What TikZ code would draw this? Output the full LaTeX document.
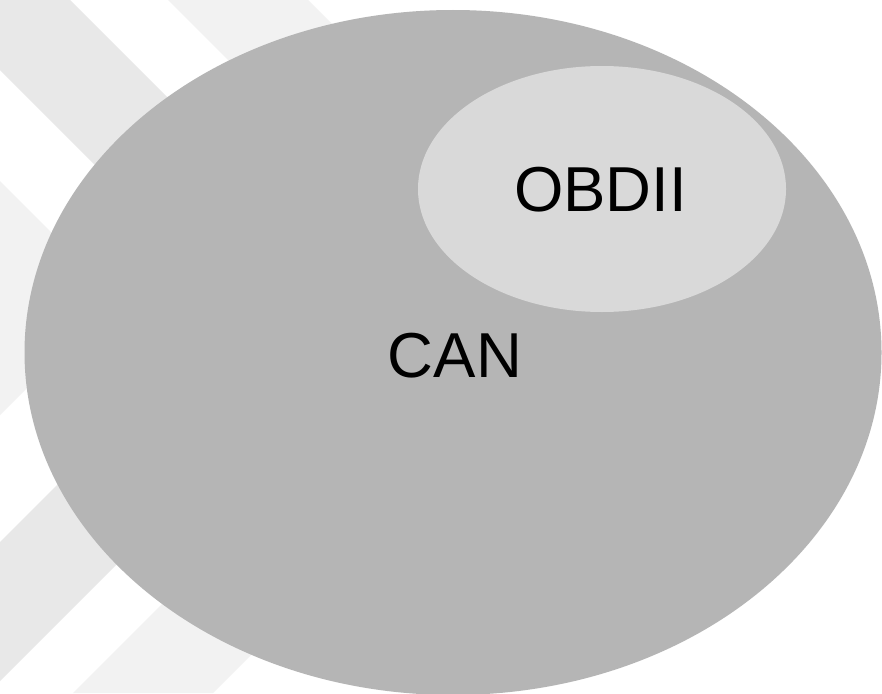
\documentclass[tikz,border=0pt]{standalone}
\usepackage{fontspec}
\setmainfont{Liberation Sans}
\usetikzlibrary{shapes.geometric}
\definecolor{stripeA}{HTML}{E8E8E8}
\definecolor{stripeB}{HTML}{F2F2F2}
\definecolor{canfill}{HTML}{B5B5B5}
\definecolor{obdfill}{HTML}{D9D9D9}
\tikzset{
  blob/.style={ellipse, inner sep=0pt, outer sep=0pt, draw=none},
  lbl/.style={inner sep=0pt, outer sep=0pt, anchor=base, font=\fontsize{63.5}{70}\selectfont, text=black}
}
\begin{document}
\begin{tikzpicture}[x=1pt, y=-1pt]
\useasboundingbox (0,0) rectangle (882,693);
\clip (0,0) rectangle (882,693);
\fill[white] (0,0) rectangle (882,693);
% background chevron stripes
\fill[stripeB] (0,181) -- (117,298) -- (0,415) -- cycle;
\fill[stripeA] (0,0) -- (70,0) -- (375.5,305.5) -- (0,681) -- (0,542) -- (236,306) -- (0,70) -- cycle;
\fill[stripeB] (168,0) -- (308,0) -- (607,299) -- (213,693) -- (73,693) -- (467,299) -- cycle;
% ellipses
\node[blob, fill=canfill, minimum width=857pt, minimum height=685pt] (can) at (453,352.5) {};
\node[blob, fill=obdfill, minimum width=368pt, minimum height=246pt] (obd) at (602,189) {};
% labels
\node[lbl] (canlbl) at (455,377) {CAN};
\node[lbl] (obdlbl) at (600.5,211.5) {OBDII};
\end{tikzpicture}
\end{document}
